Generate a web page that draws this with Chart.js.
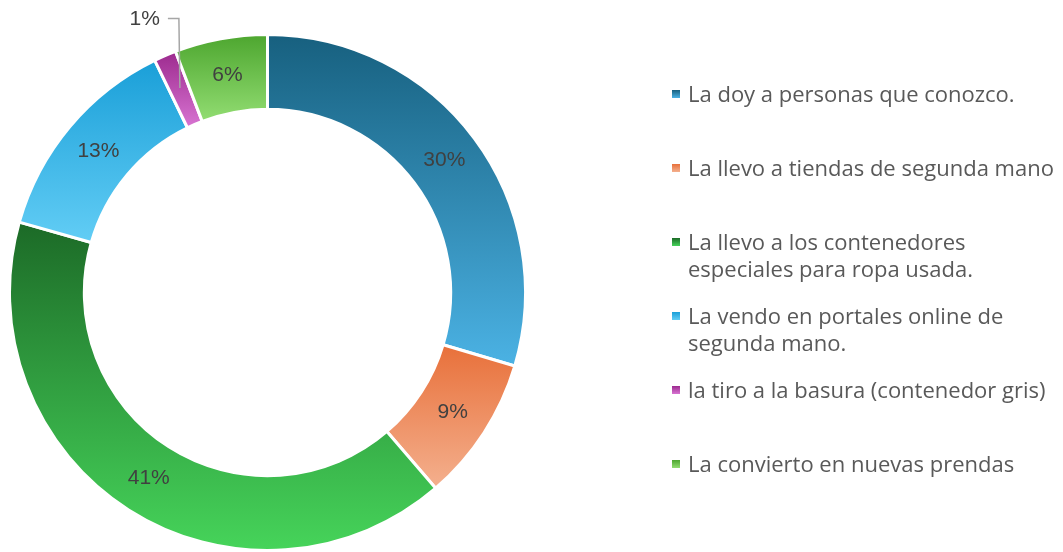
<!DOCTYPE html>
<html>
<head>
<meta charset="utf-8">
<script src="https://cdn.jsdelivr.net/npm/chart.js@4.4.0/dist/chart.umd.min.js"></script>
<style>
  html, body { margin: 0; padding: 0; background: #fff; }
  #wrap { position: relative; width: 1063px; height: 552px; overflow: hidden; }
  #chart { position: absolute; left: 0; top: 0; }
  #legend { position: absolute; left: 672px; top: 80px; font-family: 'Open Sans', sans-serif; font-size: 22px; color: #595959; }
  .item { height: 74px; display: flex; align-items: flex-start; }
  .box { width: 8px; height: 8px; margin-top: 10px; margin-right: 8px; flex: none; }
  .txt { line-height: 27px; white-space: nowrap; }
</style>
</head>
<body>
<div id="wrap">
  <canvas id="chart" width="1063" height="552"></canvas>
  <div id="legend"></div>
</div>
<script>
// answers, clockwise from 12 o'clock
const labels = [
  'La doy a personas que conozco.',
  'La llevo a tiendas de segunda mano',
  ['La llevo a los contenedores', 'especiales para ropa usada.'],
  ['La vendo en portales online de', 'segunda mano.'],
  'la tiro a la basura (contenedor gris)',
  'La convierto en nuevas prendas'
]
// share of answers in % (labels show them rounded)
const shares = [29.6, 9.1, 40.7, 13.4, 1.4, 5.8]

// gradient ends for every slice (top -> bottom)
const topColors = ['#17607f', '#e8703a', '#1c6a27', '#1a9fd8', '#9c2a8e', '#4da62f']
const bottomColors = ['#4bb2e4', '#f4b08e', '#46d45a', '#62cdf5', '#d874d2', '#92dd72']

const cutoutPct = 0.71

function sliceGradient(context) {
  const chart = context.chart
  const area = chart.chartArea
  const i = context.dataIndex
  if (!area) return topColors[i]
  const total = shares.reduce((a, b) => a + b, 0)
  let before = 0
  for (let k = 0; k < i; k++) before += shares[k]
  const a0 = -Math.PI / 2 + before / total * 2 * Math.PI
  const a1 = a0 + shares[i] / total * 2 * Math.PI
  const cy = (area.top + area.bottom) / 2
  const R = (Math.min(area.width, area.height) - 3) / 2
  const r = R * cutoutPct
  let yMin = Infinity, yMax = -Infinity
  for (let s = 0; s <= 60; s++) {
    const a = a0 + (a1 - a0) * s / 60
    ;[r, R].forEach((rad) => {
      const y = cy + rad * Math.sin(a)
      yMin = Math.min(yMin, y)
      yMax = Math.max(yMax, y)
    })
  }
  const g = chart.ctx.createLinearGradient(0, yMin, 0, yMax)
  g.addColorStop(0, topColors[i])
  g.addColorStop(1, bottomColors[i])
  return g
}

// percentage labels, small slices get a leader line above the ring
const pctLabels = {
  id: 'pctLabels',
  afterDatasetsDraw(chart) {
    const ctx = chart.ctx
    const meta = chart.getDatasetMeta(0)
    ctx.save()
    ctx.font = '21px "Liberation Sans", Arial, sans-serif'
    ctx.fillStyle = '#404040'
    ctx.textBaseline = 'middle'
    meta.data.forEach((arc, i) => {
      const text = Math.round(shares[i]) + '%'
      const p = arc.tooltipPosition()
      if (shares[i] >= 3) {
        ctx.textAlign = 'center'
        ctx.fillText(text, p.x, p.y)
        return
      }
      const topY = arc.y - arc.outerRadius - 16
      ctx.strokeStyle = '#a6a6a6'
      ctx.lineWidth = 1.5
      ctx.beginPath()
      ctx.moveTo(p.x, p.y - 2)
      ctx.lineTo(p.x - 1, topY)
      ctx.lineTo(p.x - 12, topY)
      ctx.stroke()
      ctx.textAlign = 'right'
      ctx.fillText(text, p.x - 20, topY + 1)
    })
    ctx.restore()
  }
}

new Chart(document.getElementById('chart'), {
  type: 'doughnut',
  data: {
    labels: labels,
    datasets: [{
      data: shares,
      backgroundColor: sliceGradient,
      borderColor: '#ffffff',
      borderWidth: 3
    }]
  },
  options: {
    responsive: false,
    animation: false,
    cutout: (cutoutPct * 100) + '%',
    layout: { padding: { left: 8, top: 33, right: 536, bottom: 0 } },
    plugins: {
      legend: { display: false },
      tooltip: { enabled: false }
    }
  },
  plugins: [pctLabels]
})

// html legend, wrapped like the original
const legendEl = document.getElementById('legend')
labels.forEach((lab, i) => {
  const item = document.createElement('div')
  item.className = 'item'
  const box = document.createElement('div')
  box.className = 'box'
  box.style.background = 'linear-gradient(' + topColors[i] + ',' + bottomColors[i] + ')'
  const txt = document.createElement('div')
  txt.className = 'txt'
  txt.innerHTML = [].concat(lab).join('<br>')
  item.appendChild(box)
  item.appendChild(txt)
  legendEl.appendChild(item)
})
</script>
</body>
</html>
